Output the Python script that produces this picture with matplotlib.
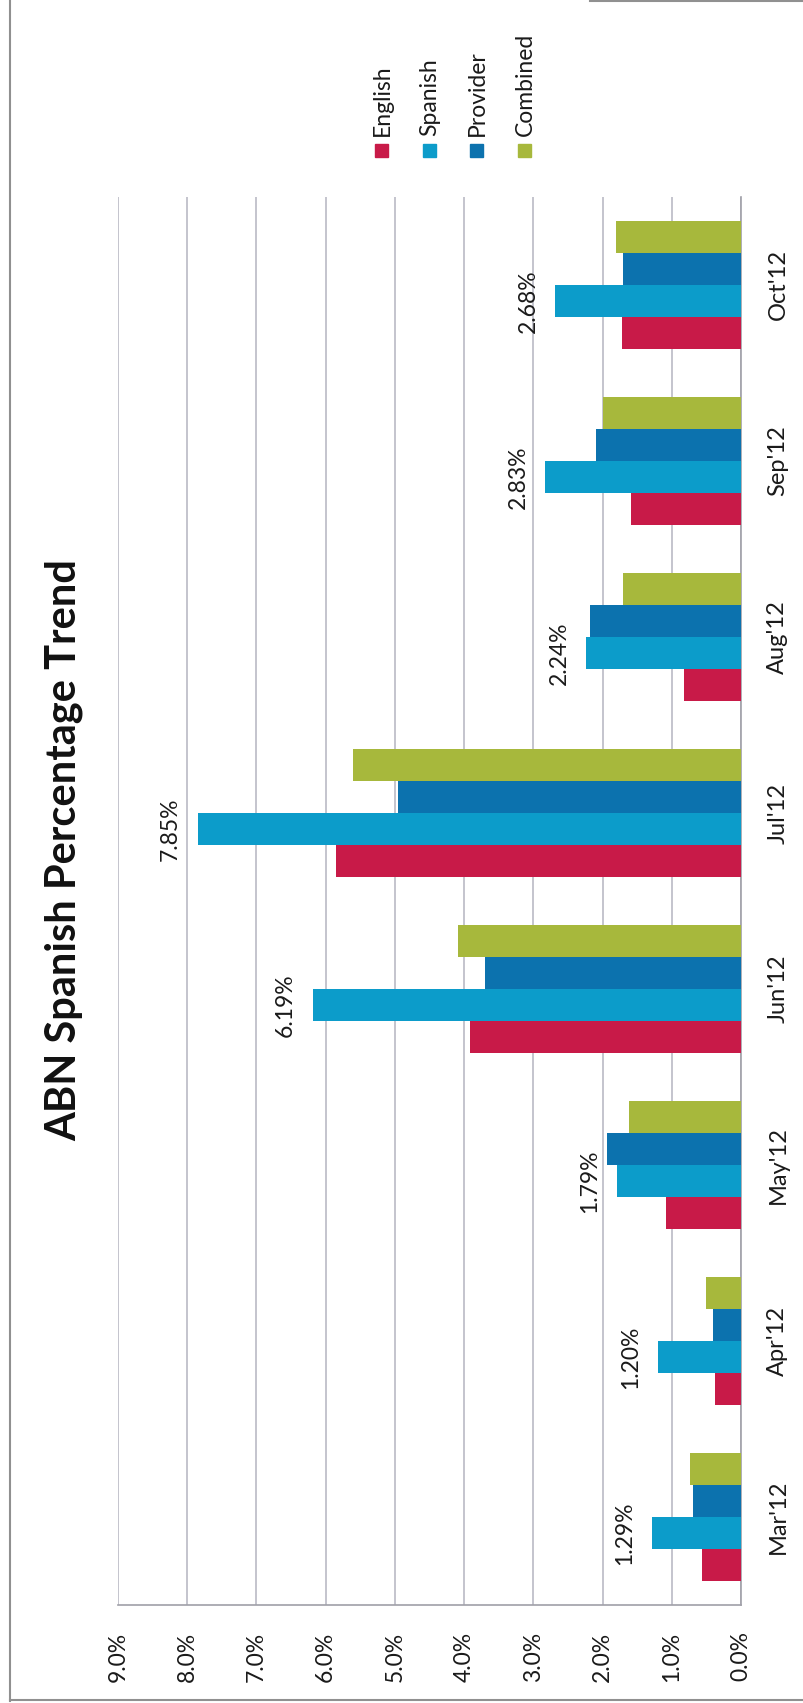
import numpy as np
import matplotlib
matplotlib.use("Agg")
import matplotlib.pyplot as plt
from matplotlib.lines import Line2D
from matplotlib.patches import Rectangle

plt.rcParams['font.family'] = ['Lato', 'DejaVu Sans']

months = ["Mar'12", "Apr'12", "May'12", "Jun'12", "Jul'12", "Aug'12", "Sep'12", "Oct'12"]
english = [0.56, 0.37, 1.09, 3.92, 5.85, 0.82, 1.59, 1.72]
spanish = [1.29, 1.20, 1.79, 6.19, 7.85, 2.24, 2.83, 2.68]
provider = [0.70, 0.41, 1.93, 3.70, 4.96, 2.18, 2.10, 1.71]
combined = [0.73, 0.50, 1.62, 4.09, 5.61, 1.70, 1.99, 1.81]
series_names = ["English", "Spanish", "Provider", "Combined"]
colors = ["#C81A48", "#0C9CCA", "#0C72AE", "#A7B83C"]
value_ticks = [0, 1, 2, 3, 4, 5, 6, 7, 8, 9]

W, H = 804, 1703
fig = plt.figure(figsize=(W / 100, H / 100), dpi=100, facecolor="white")

# chart is drawn sideways (landscape chart turned 90 deg)
ax = fig.add_axes([118 / W, 1 - 1605 / H, (741 - 118) / W, (1605 - 197) / H])

y = np.arange(len(months))
bw = 32 / 176
all_series = [english, spanish, provider, combined]
for i, (vals, c) in enumerate(zip(all_series, colors)):
    ax.barh(y + (i - 1.5) * bw, vals, height=bw, color=c, edgecolor="none", zorder=3)

# data labels on the Spanish series
for yi, v in zip(y, spanish):
    ax.annotate("%.2f%%" % v, xy=(v, yi - 0.5 * bw), xytext=(-27, 0),
                textcoords="offset pixels", rotation=90, ha="center", va="center",
                fontsize=16.5, color="#1a1a1a")

ax.set_xlim(9, 0)
ax.set_ylim(-0.5, len(months) - 0.5)
ax.set_xticks(value_ticks)
ax.set_xticklabels(["%.1f%%" % t for t in value_ticks], rotation=90, fontsize=16.5,
                   color="#1a1a1a")
ax.set_yticks(y)
ax.set_yticklabels(months, rotation=90, va="center", fontsize=17, color="#1a1a1a")
ax.yaxis.tick_right()
ax.tick_params(axis="x", length=0, pad=19)
ax.tick_params(axis="y", length=0, pad=19)
ax.grid(axis="x", color="#B4B4C0", linewidth=1.1, zorder=0)
for s in ["top", "left"]:
    ax.spines[s].set_visible(False)
for s in ["bottom", "right"]:
    ax.spines[s].set_color("#A0A0A8")
    ax.spines[s].set_linewidth(1.2)

# title
fig.text(64 / W, 1 - 850 / H, "ABN Spanish Percentage Trend", rotation=90,
         ha="center", va="center", fontsize=30, fontweight="bold", color="#111111")

# legend, also sideways
leg_x = [382, 430, 477, 525]
for lx, name, c in zip(leg_x, series_names, colors):
    fig.add_artist(Rectangle(((lx - 6.5) / W, 1 - 157 / H), 13 / W, 13 / H,
                             transform=fig.transFigure, color=c))
    fig.text(lx / W, 1 - 136 / H, name, rotation=90, ha="center", va="bottom",
             fontsize=16.5, color="#1a1a1a")

# scanned frame border
fig.add_artist(Line2D([10 / W, 10 / W], [2 / H, 1], transform=fig.transFigure, color="#909090", lw=1.5))
fig.add_artist(Line2D([10 / W, 1], [3 / H, 3 / H], transform=fig.transFigure, color="#909090", lw=1.5))
fig.add_artist(Line2D([590 / W, 1], [1 - 1 / H, 1 - 1 / H], transform=fig.transFigure, color="#909090", lw=1.5))

fig.savefig("out.png", dpi=100, facecolor="white")
